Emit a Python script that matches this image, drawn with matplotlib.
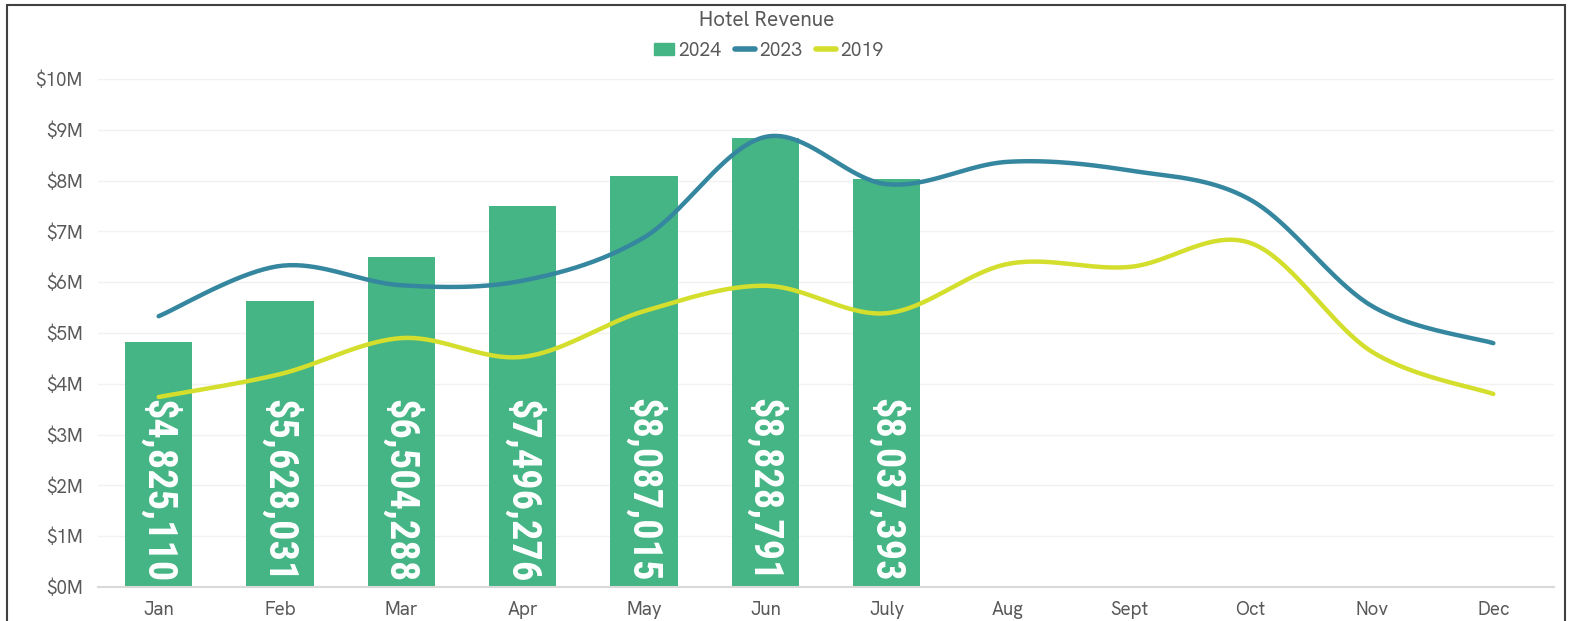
import numpy as np
import matplotlib
matplotlib.use("Agg")
import matplotlib.pyplot as plt
from matplotlib.patches import Rectangle
from matplotlib.lines import Line2D
from matplotlib.ticker import FuncFormatter

plt.rcParams["font.family"] = ["Hanken Grotesk", "DejaVu Sans"]

# data
months = ["Jan", "Feb", "Mar", "Apr", "May", "Jun", "July", "Aug", "Sept", "Oct", "Nov", "Dec"]
rev_2024 = [4825110, 5628031, 6504288, 7496276, 8087015, 8828791, 8037393]
rev_2023 = [5.33, 6.32, 5.94, 6.03, 6.88, 8.86, 7.93, 8.37, 8.20, 7.62, 5.53, 4.80]
rev_2019 = [3.74, 4.19, 4.90, 4.53, 5.43, 5.93, 5.39, 6.36, 6.30, 6.77, 4.63, 3.80]

green = "#46B585"
blue = "#35869F"
yellow = "#D3DE2D"
txt = "#595959"


def smooth(y, n=40):
    # excel style smoothing: catmull-rom bezier between points
    y = np.asarray(y, dtype=float)
    x = np.arange(len(y), dtype=float)
    xs, ys = [], []
    t = np.linspace(0, 1, n)
    for i in range(len(y) - 1):
        i0, i3 = max(i - 1, 0), min(i + 2, len(y) - 1)
        p0 = np.array([x[i], y[i]])
        p3 = np.array([x[i + 1], y[i + 1]])
        p1 = p0 + (p3 - np.array([x[i0], y[i0]])) / 6
        p2 = p3 - (np.array([x[i3], y[i3]]) - p0) / 6
        pts = ((1 - t)[:, None] ** 3 * p0 + 3 * ((1 - t) ** 2 * t)[:, None] * p1
               + 3 * ((1 - t) * t ** 2)[:, None] * p2 + (t ** 3)[:, None] * p3)
        xs.append(pts[:, 0])
        ys.append(pts[:, 1])
    return np.concatenate(xs), np.concatenate(ys)


fig = plt.figure(figsize=(15.72, 6.21), dpi=100)
ax = fig.add_axes([98 / 1572, (621 - 587) / 621, (1554 - 98) / 1572, (587 - 79) / 621])

x = np.arange(len(months))
vals24 = np.array(rev_2024) / 1e6
ax.bar(x[:len(vals24)], vals24, width=0.555, color=green, zorder=2)

for xi, v in zip(x, rev_2024):
    ax.text(xi, 0.1, f"${v:,}", rotation=270, ha="center", va="bottom",
            color="white", fontsize=29, fontweight="bold",
            family=["Roboto Condensed", "DejaVu Sans"], zorder=4)

xs, ys = smooth(rev_2023)
ax.plot(xs, ys, color=blue, lw=3.2, solid_capstyle="round", zorder=3)
xs, ys = smooth(rev_2019)
ax.plot(xs, ys, color=yellow, lw=3.2, solid_capstyle="round", zorder=3)

ax.set_xlim(-0.5, 11.5)
ax.set_ylim(0, 10)
ax.set_yticks(np.arange(0, 11))
ax.yaxis.set_major_formatter(FuncFormatter(lambda v, p: f"${v:.0f}M"))
ax.set_xticks(x)
ax.set_xticklabels(months)
ax.grid(axis="y", color="#F2F2F2", lw=1, zorder=0)
ax.set_axisbelow(True)
for s in ["top", "right", "left"]:
    ax.spines[s].set_visible(False)
ax.spines["bottom"].set_color("#D9D9D9")
ax.spines["bottom"].set_linewidth(1.5)
ax.tick_params(length=0, colors=txt, labelsize=13.5)
ax.tick_params(axis="y", pad=11)
ax.tick_params(axis="x", pad=10)

fig.text(767 / 1572, 1 - 20 / 621, "Hotel Revenue", ha="center", va="center",
         fontsize=15, color=txt)

handles = [Rectangle((0, 0), 1, 1, color=green),
           Line2D([0], [0], color=blue, lw=4, solid_capstyle="round"),
           Line2D([0], [0], color=yellow, lw=4, solid_capstyle="round")]
leg = fig.legend(handles, ["2024", "2023", "2019"], loc="center",
                 bbox_to_anchor=(769 / 1572, 1 - 51 / 621), ncol=3, frameon=False,
                 fontsize=14, handlelength=1.0, handleheight=0.6,
                 handletextpad=0.25, columnspacing=0.7)
for t in leg.get_texts():
    t.set_color(txt)

# outer border
fig.patches.append(Rectangle((7 / 1572, -0.05), (1565 - 7) / 1572, 1.05 - 5 / 621,
                             transform=fig.transFigure, fill=False,
                             edgecolor="#404040", lw=1.5))

fig.savefig("out.png", dpi=100, facecolor="white")
